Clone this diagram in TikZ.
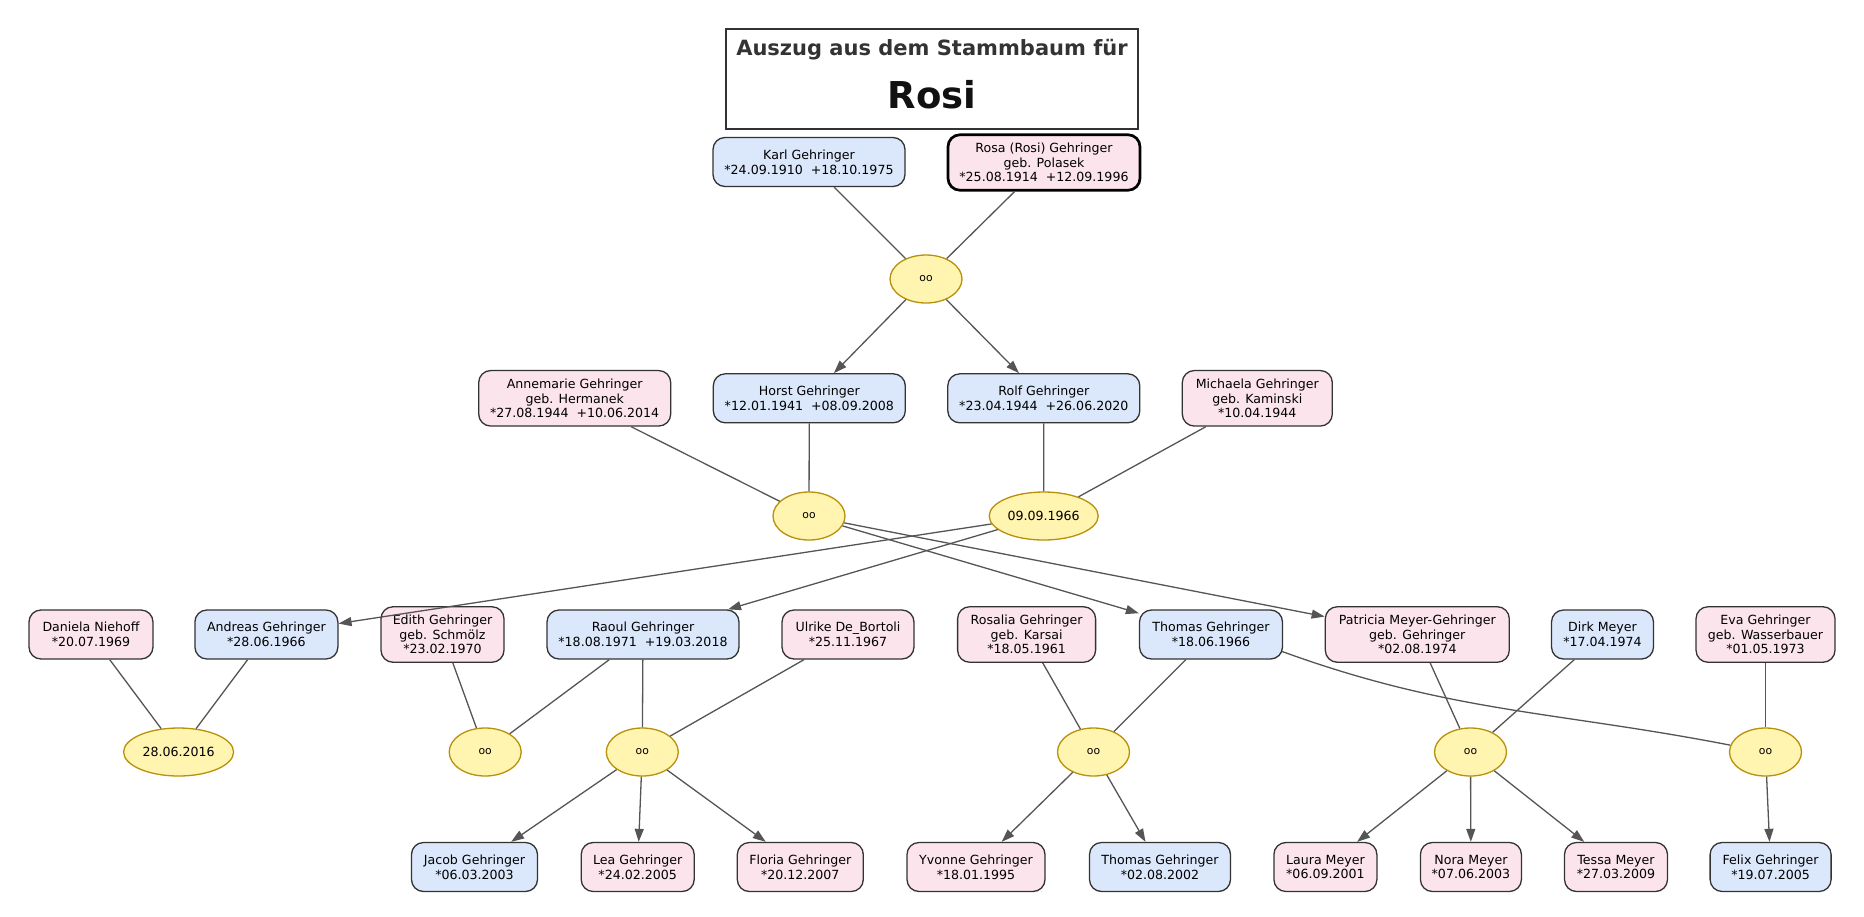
\documentclass[tikz,border=0pt]{standalone}
\usepackage{fontspec}
\setmainfont{DejaVu Sans}
\usetikzlibrary{shapes.geometric,arrows.meta}
\definecolor{mfill}{HTML}{DBE8FC}
\definecolor{ffill}{HTML}{FCE4EC}
\definecolor{efill}{HTML}{FFF4B0}
\definecolor{edraw}{HTML}{B8900A}
\definecolor{bdraw}{HTML}{333333}
\definecolor{ecol}{HTML}{555555}
\definecolor{tgray}{HTML}{333333}
\definecolor{tblack}{HTML}{111111}
\begin{document}
\begin{tikzpicture}[x=1pt,y=-1pt,
 person/.style={draw=bdraw, line width=1.3pt, rounded corners=12pt, align=center, inner sep=0pt, font=\fontsize{12.6}{14.6}\selectfont, minimum height=49pt},
 boxm/.style={person, fill=mfill},
 boxf/.style={person, fill=ffill},
 three/.style={minimum height=55.5pt},
 marr/.style={ellipse, draw=edraw, fill=efill, line width=1.3pt, minimum width=72pt, minimum height=48pt, inner sep=0pt, font=\fontsize{10.8}{12}\selectfont},
 mdate/.style={marr, font=\fontsize{12.6}{14}\selectfont},
 link/.style={draw=ecol, line width=1.3pt},
 child/.style={link, -{Triangle[length=13pt,width=9pt]}}
]
\useasboundingbox (0,0) rectangle (1864,916);
% title
\node[draw=bdraw, line width=1.3pt, minimum width=412pt, minimum height=100pt, inner sep=0pt] (title) at (932,79) {};
\node[anchor=base, inner sep=0pt, text=tgray, font=\bfseries\fontsize{21}{21}\selectfont] (t1) at (932,55) {Auszug aus dem Stammbaum für};
\node[anchor=base, inner sep=0pt, text=tblack, font=\bfseries\fontsize{37}{37}\selectfont] (t2) at (932,108) {Rosi};
% row 1
\node[boxm, minimum width=192pt] (karl) at (809,162) {Karl Gehringer\\{}*24.09.1910\ \ +18.10.1975};
\node[boxf, three, minimum width=192pt, draw=black, line width=2.7pt] (rosa) at (1044,162.5) {Rosa (Rosi) Gehringer\\geb. Polasek\\{}*25.08.1914\ \ +12.09.1996};
\node[marr] (m1) at (926,279) {oo};
% row 2
\node[boxf, three, minimum width=192pt] (anne) at (574.7,398.3) {Annemarie Gehringer\\geb. Hermanek\\{}*27.08.1944\ \ +10.06.2014};
\node[boxm, minimum width=192pt] (horst) at (809.3,398.3) {Horst Gehringer\\{}*12.01.1941\ \ +08.09.2008};
\node[boxm, minimum width=192pt] (rolf) at (1043.8,398.3) {Rolf Gehringer\\{}*23.04.1944\ \ +26.06.2020};
\node[boxf, three, minimum width=150pt] (mich) at (1257.3,398.3) {Michaela Gehringer\\geb. Kaminski\\{}*10.04.1944};
\node[marr] (m2) at (809,516) {oo};
\node[mdate, minimum width=109pt] (m3) at (1043.7,516) {09.09.1966};
% row 3
\node[boxf, minimum width=124pt] (daniela) at (91,634.5) {Daniela Niehoff\\{}*20.07.1969};
\node[boxm, minimum width=143pt] (andreas) at (266.4,634.5) {Andreas Gehringer\\{}*28.06.1966};
\node[boxf, three, minimum width=123pt] (edith) at (442.5,634.5) {Edith Gehringer\\geb. Schmölz\\{}*23.02.1970};
\node[boxm, minimum width=192pt] (raoul) at (643,634.5) {Raoul Gehringer\\{}*18.08.1971\ \ +19.03.2018};
\node[boxf, minimum width=132pt] (ulrike) at (848,634.5) {Ulrike De\_Bortoli\\{}*25.11.1967};
\node[boxf, three, minimum width=138pt] (rosalia) at (1026.6,634.5) {Rosalia Gehringer\\geb. Karsai\\{}*18.05.1961};
\node[boxm, minimum width=143pt] (thomas) at (1211,634.5) {Thomas Gehringer\\{}*18.06.1966};
\node[boxf, three, minimum width=184pt] (patricia) at (1417.3,634.5) {Patricia Meyer-Gehringer\\geb. Gehringer\\{}*02.08.1974};
\node[boxm, minimum width=102pt] (dirk) at (1602.5,634.5) {Dirk Meyer\\{}*17.04.1974};
\node[boxf, three, minimum width=139pt] (eva) at (1765.5,634.5) {Eva Gehringer\\geb. Wasserbauer\\{}*01.05.1973};
\node[mdate, minimum width=110pt] (m4) at (178.6,752) {28.06.2016};
\node[marr] (m5) at (485.2,752) {oo};
\node[marr] (m6) at (642.3,752) {oo};
\node[marr] (m7) at (1093.5,752) {oo};
\node[marr] (m8) at (1470.5,752) {oo};
\node[marr] (m9) at (1765.5,752) {oo};
% row 4
\node[boxm, minimum width=126pt] (jacob) at (474.5,867) {Jacob Gehringer\\{}*06.03.2003};
\node[boxf, minimum width=113pt] (lea) at (637.7,867) {Lea Gehringer\\{}*24.02.2005};
\node[boxf, minimum width=126pt] (floria) at (800.3,867) {Floria Gehringer\\{}*20.12.2007};
\node[boxf, minimum width=138pt] (yvonne) at (976,867) {Yvonne Gehringer\\{}*18.01.1995};
\node[boxm, minimum width=141pt] (thomas2) at (1160,867) {Thomas Gehringer\\{}*02.08.2002};
\node[boxf, minimum width=103pt] (laura) at (1325.4,867) {Laura Meyer\\{}*06.09.2001};
\node[boxf, minimum width=101pt] (nora) at (1470.9,867) {Nora Meyer\\{}*07.06.2003};
\node[boxf, minimum width=103pt] (tessa) at (1616,867) {Tessa Meyer\\{}*27.03.2009};
\node[boxm, minimum width=121pt] (felix) at (1770.6,867) {Felix Gehringer\\{}*19.07.2005};
% connectors
\draw[link] (karl) -- (m1);
\draw[link] (rosa) -- (m1);
\draw[child] (m1) -- (horst);
\draw[child] (m1) -- (rolf);
\draw[link] (anne) -- (m2);
\draw[link] (horst) -- (m2);
\draw[link] (rolf) -- (m3);
\draw[link] (mich) -- (m3);
\draw[child] (m2) -- (thomas);
\draw[child] (m2) -- (patricia);
\draw[child] (m3) -- (andreas);
\draw[child] (m3) -- (raoul);
\draw[link] (daniela) -- (m4);
\draw[link] (andreas) -- (m4);
\draw[link] (edith) -- (m5);
\draw[link] (raoul) -- (m5);
\draw[link] (raoul) -- (m6);
\draw[link] (ulrike) -- (m6);
\draw[link] (rosalia) -- (m7);
\draw[link] (thomas) -- (m7);
\draw[link] (patricia) -- (m8);
\draw[link] (dirk) -- (m8);
\draw[link] (eva) -- (m9);
\draw[link] ([yshift=-17pt,xshift=-1pt]thomas.east) to[out=-20,in=169] (m9);
\draw[child] (m6) -- (jacob);
\draw[child] (m6) -- (lea);
\draw[child] (m6) -- (floria);
\draw[child] (m7) -- (yvonne);
\draw[child] (m7) -- (thomas2);
\draw[child] (m8) -- (laura);
\draw[child] (m8) -- (nora);
\draw[child] (m8) -- (tessa);
\draw[child] (m9) -- (felix);
\end{tikzpicture}
\end{document}
